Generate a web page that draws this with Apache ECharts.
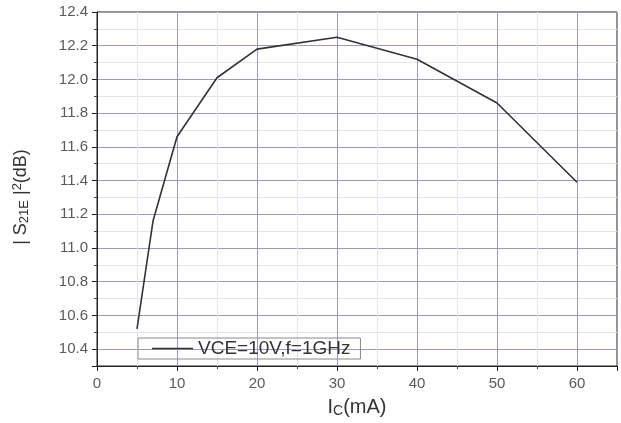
<!DOCTYPE html>
<html>
<head>
<meta charset="utf-8">
<script src="https://cdn.jsdelivr.net/npm/echarts@6/dist/echarts.min.js"></script>
<style>
  html, body { margin: 0; padding: 0; background: #fff; }
  #chart { width: 621px; height: 423px; }
</style>
</head>
<body>
<div id="chart"></div>
<script>
const currents = [5, 7, 10, 15, 20, 30, 40, 50, 60]
const gains = [10.52, 11.16, 11.66, 12.01, 12.18, 12.25, 12.12, 11.86, 11.39]
const seriesName = 'VCE=10V,f=1GHz'

const chart = echarts.init(document.getElementById('chart'), null, { renderer: 'canvas' })

const axisFont = 'Liberation Sans, Arial, sans-serif'
const labelStyle = { fontSize: 15, color: '#5a5a5a', fontFamily: axisFont }

chart.setOption({
  backgroundColor: '#ffffff',
  animation: false,
  grid: {
    left: 97, right: 4, top: 12, bottom: 56,
    show: true, borderColor: '#222', borderWidth: 1,
  },
  legend: {
    left: 138, top: 338,
    padding: [1, 10, 1, 14],
    itemWidth: 41, itemHeight: 1.6, itemGap: 6,
    icon: 'rect',
    borderColor: '#888', borderWidth: 1,
    textStyle: { fontSize: 19, color: '#333', fontFamily: axisFont },
    data: [seriesName],
  },
  xAxis: {
    type: 'value',
    min: 0, max: 65, interval: 10,
    name: '{i|I}{s|C}{i|(mA)}',
    nameLocation: 'middle',
    nameGap: 31,
    nameTextStyle: {
      rich: {
        i: { fontSize: 20, color: '#333', fontFamily: axisFont },
        s: { fontSize: 14, color: '#333', fontFamily: axisFont, padding: [7, 0, 0, 0] },
      },
    },
    axisLine: { lineStyle: { color: '#222', width: 1 } },
    axisTick: { show: true, length: 5, lineStyle: { color: '#222' } },
    minorTick: { show: true, splitNumber: 2, length: 3, lineStyle: { color: '#444' } },
    axisLabel: { ...labelStyle, margin: 10, showMaxLabel: false },
    splitLine: { show: true, lineStyle: { color: '#9a9ab6', width: 1 } },
    minorSplitLine: { show: true, lineStyle: { color: '#e4e4ee', width: 1 } },
  },
  yAxis: {
    type: 'value',
    min: 10.3, max: 12.4,
    minInterval: 0.2, maxInterval: 0.2,
    name: '{i|| S}{s|21E}{i| |}{p|2}{i|(dB)}',
    nameLocation: 'middle',
    nameRotate: 90,
    nameGap: 66,
    nameTextStyle: {
      padding: [0, 0, 0, -16],
      rich: {
        i: { fontSize: 18, color: '#333', fontFamily: axisFont },
        s: { fontSize: 13, color: '#333', fontFamily: axisFont, padding: [6, 0, 0, 0] },
        p: { fontSize: 13, color: '#333', fontFamily: axisFont, padding: [0, 0, 7, 0] },
      },
    },
    axisLine: { show: true, lineStyle: { color: '#222', width: 1 } },
    axisTick: { show: true, length: 5, lineStyle: { color: '#222' } },
    minorTick: { show: true, splitNumber: 2, length: 3, lineStyle: { color: '#444' } },
    axisLabel: {
      ...labelStyle, margin: 9, showMinLabel: false,
      formatter: v => v.toFixed(1),
    },
    splitLine: { show: true, lineStyle: { color: '#9a9ab6', width: 1 } },
    minorSplitLine: { show: true, lineStyle: { color: '#e4e4ee', width: 1 } },
  },
  series: [{
    name: seriesName,
    type: 'line',
    symbol: 'none',
    lineStyle: { color: '#333', width: 1.6 },
    itemStyle: { color: '#333' },
    data: currents.map((c, i) => [c, gains[i]]),
  }],
})
</script>
</body>
</html>
